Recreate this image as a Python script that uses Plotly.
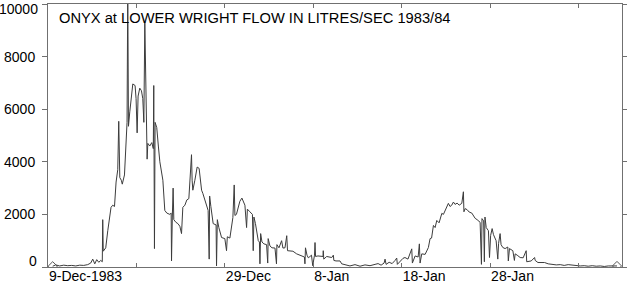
import pandas as pd
import plotly.graph_objects as go

# ---- data (days after 9-Dec-1983 00:00, flow in litres/sec) ----
day_offsets = [
    0.53, 0.87, 1.32, 1.78, 2.23, 2.68, 3.14, 3.59, 4.04, 4.49, 4.83, 5.06, 5.29, 5.51, 5.74, 5.97,
    6.14, 6.19, 6.25, 6.53, 6.76, 6.95, 7.13, 7.32, 7.52, 7.70, 7.89, 8.00, 8.12, 8.29, 8.40, 8.65,
    8.83, 8.94, 9.02, 9.10, 9.25, 9.40, 9.59, 9.85, 9.96, 10.08, 10.19, 10.38, 10.57, 10.72, 10.84,
    10.95, 11.03, 11.14, 11.21, 11.29, 11.51, 11.74, 11.91, 11.96, 12.04, 12.11, 12.30, 12.48, 12.65,
    12.99, 13.21, 13.44, 13.78, 13.93, 13.97, 14.06, 14.15, 14.23, 14.46, 14.69, 14.91, 15.10, 15.25,
    15.48, 15.70, 15.93, 16.12, 16.23, 16.30, 16.38, 16.61, 16.87, 17.09, 17.37, 17.51, 17.74, 18.11,
    18.23, 18.28, 18.42, 18.68, 19.01, 19.06, 19.15, 19.32, 19.63, 20.00, 20.19, 20.28, 20.57, 20.76,
    20.91, 21.06, 21.14, 21.31, 21.51, 21.70, 21.93, 22.10, 22.27, 22.46, 22.55, 22.83, 23.12, 23.21,
    23.29, 23.46, 23.78, 23.91, 23.97, 24.05, 24.20, 24.42, 24.72, 24.85, 24.90, 25.10, 25.33, 25.67,
    25.84, 25.89, 26.12, 26.42, 26.57, 26.80, 27.00, 27.09, 27.36, 27.70, 28.12, 28.50, 28.69, 29.00,
    29.06, 29.12, 29.29, 29.44, 29.63, 29.80, 29.94, 30.14, 30.20, 30.26, 30.53, 30.95, 31.10, 31.13,
    31.19, 31.52, 31.90, 32.09, 32.27, 32.33, 32.57, 33.02, 33.22, 33.59, 34.15, 34.72, 35.29, 35.85,
    36.42, 36.99, 37.33, 37.67, 38.01, 38.12, 38.24, 38.58, 38.92, 39.25, 39.44, 39.51, 39.81, 40.15,
    40.37, 40.71, 41.14, 41.21, 41.52, 41.86, 42.00, 42.08, 42.27, 42.65, 43.02, 43.21, 43.38, 43.59,
    43.78, 43.97, 44.23, 44.54, 44.72, 45.10, 45.28, 45.47, 45.66, 45.85, 46.04, 46.27, 46.50, 46.80,
    46.98, 47.04, 47.17, 47.40, 47.63, 47.93, 48.11, 48.31, 48.53, 48.87, 49.02, 49.08, 49.27, 49.35,
    49.42, 49.56, 49.81, 49.93, 50.06, 50.23, 50.38, 50.68, 50.87, 50.96, 51.13, 51.24, 51.44, 51.70,
    52.00, 52.06, 52.19, 52.57, 52.75, 52.83, 53.06, 53.40, 53.74, 54.08, 54.14, 54.42, 54.65, 55.03,
    55.10, 55.41, 55.78, 56.16, 56.57, 57.02, 57.48, 57.93, 58.38, 58.83, 59.29, 59.74, 60.19, 60.64,
    61.09, 61.55, 62.00, 62.46, 62.91, 63.36, 63.82, 64.35,
]
flow = [
    30, 80, 40, 70, 50, 60, 40, 70, 60, 90, 150, 300, 120, 280, 180, 250,
    200, 1800, 600, 730, 1380, 1840, 2270, 2350, 2300, 3230, 3700, 5540, 3400, 3300, 3150, 3500,
    4580, 5500, 10600, 5350, 5900, 6500, 6960, 6900, 6400, 5100, 6500, 6800, 6700, 6400, 5500,
    9300, 7540, 5880, 4100, 4700, 4600, 4730, 4500, 6900, 700, 5500, 5300, 4600, 4000,
    3300, 2150, 2050, 2000, 2050, 230, 1900, 3000, 1800, 1700, 1650, 1550, 1270, 2270,
    2350, 2550, 2600, 3580, 4270, 3300, 2920, 3300, 3800, 3750, 2920, 2800, 2540, 2150,
    300, 2700, 2300, 1650, 1600, 40, 1800, 1500, 1120, 1080, 620, 1150, 1100, 1500,
    1880, 3120, 1960, 2000, 2270, 2500, 2620, 2500, 2350, 1500, 2200, 2100, 2000, 620,
    1900, 1650, 1000, 950, 120, 1270, 950, 880, 850, 150, 1080, 800, 730, 720,
    120, 850, 730, 1000, 720, 730, 1190, 620, 620, 600, 500, 450, 420, 380,
    120, 730, 450, 350, 400, 450, 50, 450, 930, 400, 420, 420, 400, 620,
    300, 400, 380, 360, 450, 250, 230, 230, 120, 80, 40, 90, 30, 80,
    50, 100, 130, 70, 150, 300, 100, 180, 130, 250, 340, 100, 200, 330,
    360, 300, 690, 150, 420, 380, 880, 150, 500, 480, 740, 1080, 1100, 1580,
    1500, 1770, 1680, 2040, 2000, 2280, 2420, 2300, 2350, 2470, 2380, 2430, 2350, 2420,
    2860, 2100, 2220, 2180, 2090, 2050, 1960, 1850, 1800, 1700, 100, 1840, 1750, 200,
    1900, 1500, 1380, 360, 1200, 1460, 1230, 1000, 300, 900, 1270, 850, 740, 700,
    760, 230, 700, 620, 250, 500, 450, 360, 350, 620, 200, 230, 230, 360,
    250, 170, 170, 170, 120, 100, 80, 90, 60, 90, 70, 60, 40, 50,
    30, 50, 30, 40, 20, 40, 30, 40,
]

start_date = "1983-12-09"
end_date = "1984-02-11 22:00"
tick_dates = ["1983-12-09", "1983-12-19", "1983-12-29", "1984-01-08",
              "1984-01-18", "1984-01-28", "1984-02-07"]
tick_labels = ["9-Dec-1983", "", "29-Dec", "8-Jan", "18-Jan", "28-Jan", ""]
y_ticks = [0, 2000, 4000, 6000, 8000, 10000]
y_tick_labels = ["0", "2000", "4000", "6000", "8000", "10000"]
title_text = "ONYX at LOWER WRIGHT FLOW IN LITRES/SEC 1983/84"

times = pd.Timestamp(start_date) + pd.to_timedelta(day_offsets, unit="D")

fig = go.Figure()
fig.add_trace(go.Scatter(
    x=times, y=flow, mode="lines",
    line=dict(color="#3c3c3c", width=1),
    showlegend=False, hoverinfo="skip",
))
fig.add_trace(go.Scatter(
    x=[times[0], times[-1]], y=[flow[0], flow[-1]], mode="markers",
    marker=dict(symbol="diamond-open", size=7, color="#555555", line=dict(width=1)),
    showlegend=False, hoverinfo="skip",
))

font_family = "Liberation Sans, Arial, sans-serif"

# edge y labels are drawn nudged inward (as in the original), middle ones by the axis
inner_text = [t if 0 < i < len(y_tick_labels) - 1 else "" for i, t in enumerate(y_tick_labels)]
edge_annotations = [
    dict(text=y_tick_labels[0], xref="paper", yref="y", x=0, y=y_ticks[0],
         xanchor="right", yanchor="middle", xshift=-9, yshift=6, showarrow=False,
         font=dict(family=font_family, size=14, color="black")),
    dict(text=y_tick_labels[-1], xref="paper", yref="y", x=0, y=y_ticks[-1],
         xanchor="right", yanchor="middle", xshift=-8, yshift=-4.5, showarrow=False,
         font=dict(family=font_family, size=14, color="black")),
]

fig.update_layout(
    width=627, height=283,
    margin=dict(l=48, r=5, t=4, b=16, autoexpand=False),
    paper_bgcolor="white", plot_bgcolor="white",
    font=dict(family=font_family, size=14, color="black"),
    annotations=[dict(
        text=title_text, xref="paper", yref="paper", x=0.0157, y=0.985,
        xanchor="left", yanchor="top", showarrow=False,
        font=dict(family=font_family, size=14.7, color="black"),
    )] + edge_annotations,
)
fig.update_xaxes(
    type="date", range=[start_date, end_date], automargin=False,
    tickvals=tick_dates, ticktext=tick_labels,
    ticklabelposition="outside right", ticklabelstandoff=-4,
    ticks="inside", ticklen=4, tickcolor="#707070", tickwidth=1,
    showline=True, linecolor="#707070", linewidth=1, mirror="ticks",
    showgrid=False, zeroline=False,
    tickfont=dict(size=14, color="black"),
)
fig.update_yaxes(
    range=[0, 10000], automargin=False,
    tickvals=y_ticks, ticktext=inner_text, ticklabelstandoff=4,
    ticks="outside", ticklen=5, tickcolor="#707070", tickwidth=1,
    showline=True, linecolor="#707070", linewidth=1, mirror="ticks",
    showgrid=False, zeroline=False,
    tickfont=dict(size=14, color="black"),
)

fig.write_html(
    "out.html",
    config={"displayModeBar": False},
    post_script="document.body.style.margin='0';document.body.style.overflow='hidden';",
)
